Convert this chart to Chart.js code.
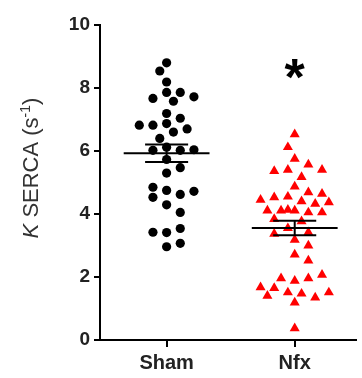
<!DOCTYPE html>
<html>
<head>
<meta charset="utf-8">
<script src="https://cdn.jsdelivr.net/npm/chart.js@4"></script>
<style>
  html, body { margin: 0; padding: 0; background: #fff; }
  #wrap { width: 362px; height: 378px; position: relative; }
</style>
</head>
<body>
<div id="wrap"><canvas id="myChart"></canvas></div>
<script>
// groups along the x axis
const groups = ['Sham', 'Nfx'];

// K SERCA for each cell (s^-1)
const sham = [8.80, 8.54, 8.19, 7.86, 7.86, 7.67, 7.58, 7.72, 7.19, 7.04,
              6.87, 6.82, 6.60, 6.70, 6.82, 6.40, 6.12, 6.02, 6.02, 6.04,
              5.73, 5.30, 5.47, 4.75, 4.62, 4.53, 4.72, 4.85, 4.29, 4.05,
              3.41, 3.54, 3.42, 2.96, 3.07];
const nfx = [6.53, 6.12, 5.75, 5.57, 5.40, 5.36, 5.40, 5.17, 4.87, 4.69,
             4.55, 4.53, 4.64, 4.40, 4.45, 4.32, 4.37, 4.11, 4.11, 4.05,
             4.05, 4.11, 4.13, 3.77, 3.84, 3.55, 3.42, 3.37, 3.18, 3.00,
             2.71, 2.52, 1.88, 1.96, 1.96, 2.07, 1.51, 1.47, 1.65, 1.35,
             1.67, 1.19, 1.40, 1.51, 0.37];

const yTicks = [0, 2, 4, 6, 8, 10];

const FONT = "'Liberation Sans', Arial, sans-serif";
const PX_X = 131.3;   // rough pixels per x unit
const PX_Y = 31.4;    // rough pixels per y unit

// mean and standard error
function stats(v) {
    const n = v.length;
    const m = v.reduce((a, b) => a + b, 0) / n;
    const sd = Math.sqrt(v.reduce((a, b) => a + (b - m) ** 2, 0) / (n - 1));
    return { m, sem: sd / Math.sqrt(n) };
}

// simple beeswarm: push each point sideways (on a grid of `step` px, at most
// maxK steps out) until it is clear of the elliptical footprint of the others;
// if no slot is clear, take the least crowded one
function swarm(values, center, step, gapX, gapY, maxK) {
    const placed = [];
    const room = (dx, v) => Math.min(Infinity, ...placed.map(p =>
        ((p.dx - dx) / gapX) ** 2 + ((p.v - v) * PX_Y / gapY) ** 2));
    values.forEach(v => {
        let best = 0, bestRoom = -1;
        for (let k = 0; k <= maxK; k++) {
            const offs = k === 0 ? [0] : (k % 2 ? [-k, k] : [k, -k]);
            for (const o of offs) {
                const r = room(o * step, v);
                if (r >= 1) { best = o; bestRoom = Infinity; break; }
                if (r > bestRoom) { best = o; bestRoom = r; }
            }
            if (bestRoom === Infinity) break;
        }
        placed.push({ dx: best * step, v });
    });
    return placed.map(p => ({ x: center + p.dx / PX_X, y: p.v }));
}

// a short black segment, used for mean line and error bars
function seg(x1, y1, x2, y2) {
    return {
        type: 'scatter',
        data: [{ x: x1, y: y1 }, { x: x2, y: y2 }],
        showLine: true,
        borderColor: '#000',
        borderWidth: 2,
        pointRadius: 0,
        order: 0
    };
}

function summary(values, c) {
    const s = stats(values);
    const w = 0.335, cw = 0.168;
    return [
        seg(c - w, s.m, c + w, s.m),
        seg(c - cw, s.m + s.sem, c + cw, s.m + s.sem),
        seg(c - cw, s.m - s.sem, c + cw, s.m - s.sem),
        seg(c, s.m - s.sem, c, s.m + s.sem)
    ];
}

// y title with italic K and superscript, plus the significance star
const annotate = {
    id: 'annotate',
    afterDraw(chart) {
        const ctx = chart.ctx;
        const parts = [
            { t: 'K', font: 'italic 22px ' + FONT, rise: 0 },
            { t: ' SERCA (s', font: '22px ' + FONT, rise: 0 },
            { t: '-1', font: '14px ' + FONT, rise: 8 },
            { t: ')', font: '22px ' + FONT, rise: 0 }
        ];
        let total = 0;
        parts.forEach(p => { ctx.font = p.font; p.w = ctx.measureText(p.t).width; total += p.w; });
        ctx.save();
        ctx.translate(38, 168);
        ctx.rotate(-Math.PI / 2);
        ctx.fillStyle = '#333';
        ctx.textBaseline = 'alphabetic';
        let x = -total / 2;
        parts.forEach(p => {
            ctx.font = p.font;
            ctx.fillText(p.t, x, -p.rise);
            x += p.w;
        });
        ctx.restore();

        // star over Nfx
        ctx.save();
        ctx.font = 'bold 52px ' + FONT;
        ctx.fillStyle = '#000';
        const m = ctx.measureText('*');
        const sx = chart.scales.x.getPixelForValue(2);
        const sy = chart.scales.y.getPixelForValue(8.6);
        const h = m.actualBoundingBoxAscent + m.actualBoundingBoxDescent;
        ctx.textAlign = 'center';
        ctx.textBaseline = 'alphabetic';
        ctx.fillText('*', sx, sy + h / 2 - m.actualBoundingBoxDescent);
        ctx.restore();
    }
};

const axisGrid = { display: true, drawOnChartArea: false, drawTicks: true, color: '#000', lineWidth: 2 };

const ctx = document.getElementById('myChart');
new Chart(ctx, {
    type: 'scatter',
    data: {
        datasets: [
            {
                data: swarm(sham, 1, 7, 13, 9, 5),
                pointStyle: 'circle',
                pointRadius: 4.6,
                backgroundColor: '#000',
                borderWidth: 0,
                order: 1
            },
            {
                data: swarm(nfx, 2, 7, 8.5, 13, 5),
                pointStyle: 'triangle',
                pointRadius: 5.8,
                backgroundColor: '#ff0000',
                borderWidth: 0,
                order: 1
            },
            ...summary(sham, 1),
            ...summary(nfx, 2)
        ]
    },
    options: {
        responsive: true,
        maintainAspectRatio: false,
        animation: false,
        layout: { padding: { top: 25, right: 0, bottom: 0, left: 0 } },
        scales: {
            x: {
                type: 'linear',
                min: 0.48,
                max: 2.48,
                afterBuildTicks: s => { s.ticks = groups.map((g, i) => ({ value: i + 1 })); },
                afterFit: s => { s.height = 38; },
                ticks: {
                    callback: v => groups[v - 1],
                    font: { family: FONT, size: 20, weight: 'bold' },
                    color: '#222',
                    padding: 4,
                    maxRotation: 0,
                    autoSkip: false
                },
                grid: { ...axisGrid, tickLength: 7 },
                border: { display: true, color: '#000', width: 2 }
            },
            y: {
                min: 0,
                max: 10,
                afterBuildTicks: s => { s.ticks = yTicks.map(v => ({ value: v })); },
                afterFit: s => { s.width = 100; },
                ticks: {
                    font: { family: FONT, size: 19, weight: 'bold' },
                    color: '#222',
                    padding: 4
                },
                grid: { ...axisGrid, tickLength: 6 },
                border: { display: true, color: '#000', width: 2 }
            }
        },
        plugins: {
            legend: { display: false },
            tooltip: { enabled: false }
        }
    },
    plugins: [annotate]
});
</script>
</body>
</html>
